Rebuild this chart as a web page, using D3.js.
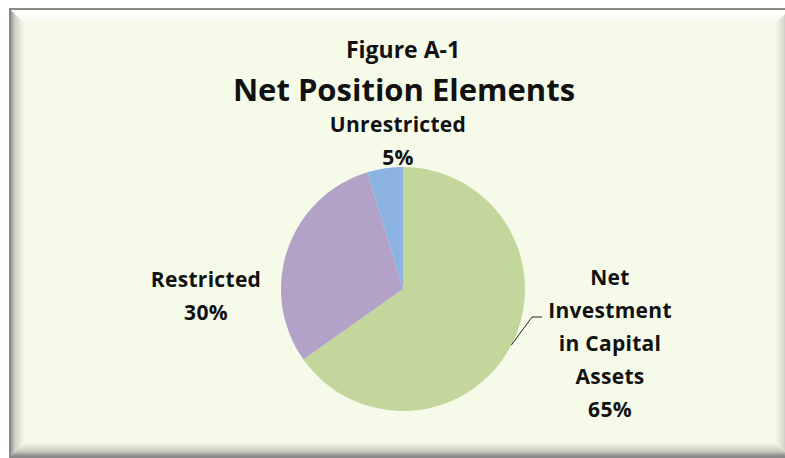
<!DOCTYPE html>
<html>
<head>
<meta charset="utf-8">
<script src="https://cdn.jsdelivr.net/npm/d3@7"></script>
<style>
  body { margin: 0; background: #fff; }
  svg { display: block; }
  text { font-family: "Open Sans", Lato, sans-serif; font-weight: bold; fill: #111; }
</style>
</head>
<body>
<svg id="canvas" width="785" height="458"></svg>
<script>
const categories = ["Net Investment in Capital Assets", "Restricted", "Unrestricted"];
const values = [65.2, 30.1, 4.7];
const colors = ["#c3d69b", "#b3a2c7", "#8db3e2"];
const labelLines = [
    ["Net", "Investment", "in Capital", "Assets"],
    ["Restricted"],
    ["Unrestricted"]
];

const svg = d3.select("#canvas");

// frame with bevel
const defs = svg.append("defs");
const mkGrad = (id, x1, y1, x2, y2, stops) => {
    let g = defs.append("linearGradient").attr("id", id)
        .attr("x1", x1).attr("y1", y1).attr("x2", x2).attr("y2", y2);
    stops.forEach(s => g.append("stop").attr("offset", s[0]).attr("stop-color", s[1]));
};
mkGrad("gl", 0, 0, 1, 0, [[0, "#9a9a9a"], [0.3, "#cfd2c4"], [1, "#f4f9e6"]]);
mkGrad("gt", 0, 0, 0, 1, [[0, "#ffffff"], [1, "#f6faea"]]);
mkGrad("gb", 0, 1, 0, 0, [[0, "#8c8c8c"], [0.35, "#c8cbbd"], [1, "#f4f9e6"]]);
mkGrad("gr", 1, 0, 0, 0, [[0, "#a0a0a0"], [0.4, "#d8dbcd"], [1, "#f4f9e6"]]);

const fx = 10, fy = 9, fw = 780, fh = 448, b = 13;
svg.append("rect").attr("x", fx).attr("y", fy).attr("width", fw).attr("height", fh)
    .attr("fill", "#f6fbe9").attr("stroke", "#8a8a8a").attr("stroke-width", 2);
const L = fx + 1, T = fy + 1, R = fx + fw - 1, B = fy + fh - 1;
svg.append("polygon").attr("points", [[L, T], [L + b, T + b], [L + b, B - b], [L, B]].join(" ")).attr("fill", "url(#gl)");
svg.append("polygon").attr("points", [[L, T], [R, T], [R - b, T + b], [L + b, T + b]].join(" ")).attr("fill", "url(#gt)");
svg.append("polygon").attr("points", [[L, B], [L + b, B - b], [R - b, B - b], [R, B]].join(" ")).attr("fill", "url(#gb)");
svg.append("polygon").attr("points", [[R, T], [R, B], [R - b, B - b], [R - b, T + b]].join(" ")).attr("fill", "url(#gr)");

// titles
svg.append("text").attr("x", 403).attr("y", 58).attr("text-anchor", "middle")
    .style("font-size", "23px").text("Figure A-1");
svg.append("text").attr("x", 404).attr("y", 101).attr("text-anchor", "middle")
    .style("font-size", "31px").text("Net Position Elements");

// pie
const cx = 403, cy = 289, r = 122;
const pie = d3.pie().sort(null).value(d => d);
const arcs = pie(values);
const arc = d3.arc().innerRadius(0).outerRadius(r);
const g = svg.append("g").attr("transform", "translate(" + cx + "," + cy + ")");
g.selectAll("path").data(arcs).enter().append("path")
    .attr("d", arc)
    .attr("fill", (d, i) => colors[i]);

// labels
const total = d3.sum(values);
const pct = v => Math.round(v / total * 100) + "%";
const labelPos = [[610, 285], [206, 287], [398, 132]];
const lineH = 33;
labelLines.forEach((lines, i) => {
    const t = svg.append("text").attr("text-anchor", "middle")
        .style("font-size", "21px").style("letter-spacing", "0.3px")
        .attr("data-name", categories[i]);
    lines.concat([pct(values[i])]).forEach((s, j) => {
        t.append("tspan").attr("x", labelPos[i][0]).attr("y", labelPos[i][1] + j * lineH).text(s);
    });
});

// leader line for the big slice
const a0 = arcs[0];
const ang = (a0.startAngle + a0.endAngle) / 2;
const px = cx + Math.sin(ang) * r, py = cy - Math.cos(ang) * r;
svg.append("path")
    .attr("d", "M" + px + "," + py + "L532,317L542,317")
    .attr("fill", "none").attr("stroke", "#222").attr("stroke-width", 1);
</script>
</body>
</html>
